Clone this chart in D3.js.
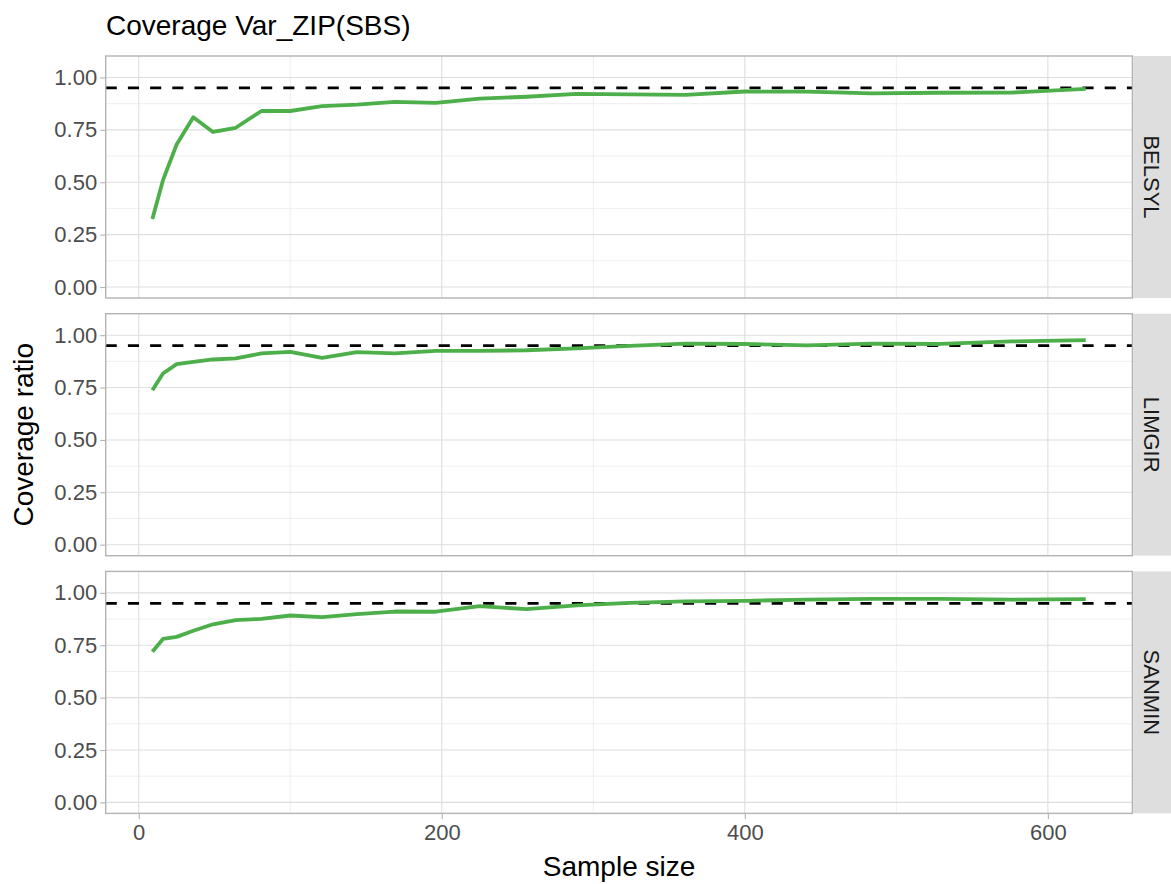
<!DOCTYPE html>
<html>
<head>
<meta charset="utf-8">
<script src="https://cdn.jsdelivr.net/npm/d3@7"></script>
<style>
  html, body { margin: 0; padding: 0; background: #ffffff; }
  svg { display: block; font-family: "Liberation Sans", Arial, Helvetica, sans-serif; }
</style>
</head>
<body>
<svg id="chart" width="1171" height="884"></svg>
<script>
// ---------------- data ----------------
const chartTitle = "Coverage Var_ZIP(SBS)";
const xTitle = "Sample size";
const yTitle = "Coverage ratio";
const categories = ["BELSYL", "LIMGIR", "SANMIN"];
const sampleSizes = [9, 16, 25, 36, 49, 64, 81, 100, 121, 144, 169, 196, 225, 256, 289, 324, 361, 400, 441, 484, 529, 576, 625];
const belsyl = [0.324, 0.51, 0.68, 0.81, 0.74, 0.76, 0.84, 0.84, 0.863, 0.87, 0.884, 0.879, 0.899, 0.908, 0.922, 0.919, 0.917, 0.933, 0.932, 0.924, 0.927, 0.928, 0.946];
const limgir = [0.737, 0.817, 0.862, 0.873, 0.884, 0.889, 0.913, 0.920, 0.892, 0.919, 0.913, 0.925, 0.925, 0.928, 0.937, 0.949, 0.960, 0.958, 0.951, 0.960, 0.958, 0.970, 0.976];
const sanmin = [0.719, 0.780, 0.790, 0.819, 0.850, 0.870, 0.876, 0.892, 0.884, 0.899, 0.911, 0.910, 0.937, 0.922, 0.940, 0.952, 0.959, 0.962, 0.968, 0.971, 0.971, 0.968, 0.970];
const seriesValues = [belsyl, limgir, sanmin];
const referenceLevel = 0.95;
const yLimits = [0, 1.05];
const xTicks = [0, 200, 400, 600];
const xMinorTicks = [100, 300, 500];
const yTicks = [0, 0.25, 0.5, 0.75, 1.0];
const yMinorTicks = [0.125, 0.375, 0.625, 0.875];

// ---------------- layout ----------------
const svg = d3.select("#chart");
const panelLeft = 105.7, panelRight = 1132.4;
const panelTop0 = 56, panelH = 242, panelGap = 15.7;
const stripW = 1171 - panelRight;
const lineColor = "#4DAF4A";
const border = "#b3b3b3";

const xExt = d3.extent(sampleSizes);
const xPad = (xExt[1] - xExt[0]) * 0.05;
const x = d3.scaleLinear().domain([xExt[0] - xPad, xExt[1] + xPad]).range([panelLeft, panelRight]);
const yPad = (yLimits[1] - yLimits[0]) * 0.05;

categories.forEach((cat, i) => {
  const top = panelTop0 + i * (panelH + panelGap);
  const y = d3.scaleLinear().domain([yLimits[0] - yPad, yLimits[1] + yPad]).range([top + panelH, top]);
  const g = svg.append("g");

  // panel background
  g.append("rect").attr("x", panelLeft).attr("y", top).attr("width", panelRight - panelLeft).attr("height", panelH).attr("fill", "#ffffff");

  // minor grid
  g.selectAll(".ymin").data(yMinorTicks).join("line")
    .attr("x1", panelLeft).attr("x2", panelRight).attr("y1", d => y(d)).attr("y2", d => y(d))
    .attr("stroke", "#ebebeb").attr("stroke-width", 0.8);
  g.selectAll(".xmin").data(xMinorTicks).join("line")
    .attr("y1", top).attr("y2", top + panelH).attr("x1", d => x(d)).attr("x2", d => x(d))
    .attr("stroke", "#ebebeb").attr("stroke-width", 0.8);
  // major grid
  g.selectAll(".ymaj").data(yTicks).join("line")
    .attr("x1", panelLeft).attr("x2", panelRight).attr("y1", d => y(d)).attr("y2", d => y(d))
    .attr("stroke", "#dedede").attr("stroke-width", 1.1);
  g.selectAll(".xmaj").data(xTicks).join("line")
    .attr("y1", top).attr("y2", top + panelH).attr("x1", d => x(d)).attr("x2", d => x(d))
    .attr("stroke", "#dedede").attr("stroke-width", 1.1);

  // reference line
  g.append("line")
    .attr("x1", panelLeft).attr("x2", panelRight)
    .attr("y1", y(referenceLevel)).attr("y2", y(referenceLevel))
    .attr("stroke", "#000000").attr("stroke-width", 2.8)
    .attr("stroke-dasharray", "11.1,11.1");

  // series line
  const pts = sampleSizes.map((s, k) => [s, seriesValues[i][k]]);
  g.append("path")
    .datum(pts)
    .attr("fill", "none")
    .attr("stroke", lineColor)
    .attr("stroke-width", 3.8)
    .attr("stroke-linejoin", "round")
    .attr("d", d3.line().x(d => x(d[0])).y(d => y(d[1])));

  // panel border
  g.append("rect").attr("x", panelLeft).attr("y", top).attr("width", panelRight - panelLeft).attr("height", panelH)
    .attr("fill", "none").attr("stroke", border).attr("stroke-width", 1.4);

  // y axis
  const ay = svg.append("g").attr("transform", `translate(${panelLeft},0)`)
    .call(d3.axisLeft(y).tickValues(yTicks).tickFormat(d3.format(".2f")).tickSize(5.5).tickPadding(3));
  ay.select(".domain").remove();
  ay.selectAll(".tick line").attr("stroke", border).attr("stroke-width", 1.1);
  ay.selectAll(".tick text").attr("fill", "#4d4d4d").attr("font-size", 22)
    .attr("font-family", "'Liberation Sans', Arial, sans-serif");

  // strip
  svg.append("rect").attr("x", panelRight + 0.7).attr("y", top).attr("width", stripW).attr("height", panelH).attr("fill", "#dedede");
  svg.append("text")
    .attr("transform", `translate(${panelRight + stripW / 2 + 0.5},${top + panelH / 2}) rotate(90)`)
    .attr("text-anchor", "middle").attr("dy", "0.35em")
    .attr("font-size", 22).attr("fill", "#1a1a1a")
    .text(cat);

  // x axis on bottom panel
  if (i === categories.length - 1) {
    const ax = svg.append("g").attr("transform", `translate(0,${top + panelH})`)
      .call(d3.axisBottom(x).tickValues(xTicks).tickFormat(d3.format("d")).tickSize(5.5).tickPadding(5));
    ax.select(".domain").remove();
    ax.selectAll(".tick line").attr("stroke", border).attr("stroke-width", 1.1);
    ax.selectAll(".tick text").attr("fill", "#4d4d4d").attr("font-size", 22)
      .attr("font-family", "'Liberation Sans', Arial, sans-serif");
  }
});

// titles
const panelsBottom = panelTop0 + categories.length * panelH + (categories.length - 1) * panelGap;
svg.append("text").attr("x", 106).attr("y", 34.5).attr("font-size", 28).attr("fill", "#000").text(chartTitle);
svg.append("text").attr("x", (panelLeft + panelRight) / 2).attr("y", 876)
  .attr("text-anchor", "middle").attr("font-size", 28).attr("fill", "#000").text(xTitle);
svg.append("text")
  .attr("transform", `translate(33.3,${(panelTop0 + panelsBottom) / 2}) rotate(-90)`)
  .attr("text-anchor", "middle").attr("font-size", 28).attr("fill", "#000").text(yTitle);
</script>
</body>
</html>
